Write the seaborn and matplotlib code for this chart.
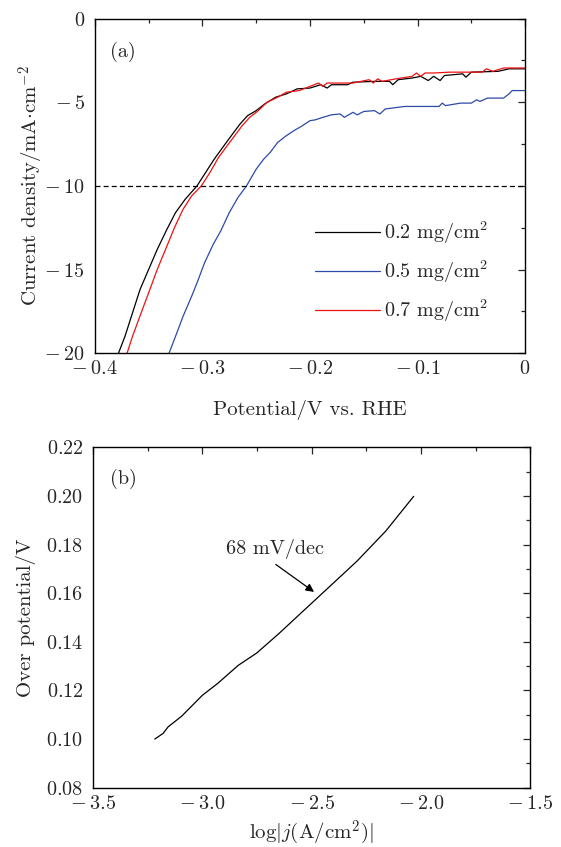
import numpy as np
import pandas as pd
import matplotlib.pyplot as plt
import matplotlib.ticker as mticker
import seaborn as sns

# Style: white background, LaTeX-like Computer Modern fonts
sns.set_style("white")
plt.rcParams['font.family'] = 'serif'
plt.rcParams['font.serif'] = ['cmr10', 'DejaVu Serif']
plt.rcParams['mathtext.fontset'] = 'cm'
plt.rcParams['axes.formatter.use_mathtext'] = True
plt.rcParams['font.size'] = 14.5

# ---- panel (a): polarization curves ----
pot_02 = [-0.378, -0.372, -0.365, -0.358, -0.350, -0.342, -0.333, -0.325, -0.316, -0.305,
          -0.297, -0.289, -0.280, -0.272, -0.265, -0.258, -0.250, -0.242, -0.232, -0.222,
          -0.212, -0.200, -0.190, -0.184, -0.180, -0.165, -0.160, -0.140, -0.126, -0.123,
          -0.118, -0.105, -0.097, -0.090, -0.085, -0.079, -0.075, -0.058, -0.055, -0.050,
          -0.025, -0.015, 0.0]
cur_02 = [-20.0, -19.0, -17.6, -16.2, -15.0, -13.8, -12.6, -11.6, -10.8, -10.0,
          -9.2, -8.4, -7.6, -6.9, -6.3, -5.8, -5.5, -5.1, -4.7, -4.5,
          -4.2, -4.15, -3.95, -4.15, -3.95, -3.95, -3.8, -3.75, -3.75, -3.95,
          -3.65, -3.55, -3.45, -3.7, -3.45, -3.7, -3.4, -3.3, -3.5, -3.2,
          -3.15, -3.0, -3.0]

pot_05 = [-0.331, -0.325, -0.318, -0.310, -0.305, -0.298, -0.290, -0.283, -0.275, -0.267,
          -0.259, -0.250, -0.243, -0.237, -0.230, -0.222, -0.215, -0.207, -0.200, -0.195,
          -0.188, -0.180, -0.172, -0.168, -0.160, -0.156, -0.150, -0.140, -0.135, -0.130,
          -0.112, -0.080, -0.077, -0.074, -0.060, -0.050, -0.045, -0.042, -0.035, -0.020,
          -0.015, -0.012, 0.0]
cur_05 = [-20.0, -19.0, -17.8, -16.6, -15.8, -14.6, -13.5, -12.7, -11.6, -10.7,
          -10.0, -9.0, -8.4, -8.0, -7.4, -7.0, -6.7, -6.4, -6.1, -6.05,
          -5.9, -5.75, -5.7, -5.9, -5.6, -5.75, -5.55, -5.5, -5.7, -5.4,
          -5.25, -5.25, -5.05, -5.2, -5.05, -5.05, -4.85, -4.95, -4.75, -4.75,
          -4.5, -4.3, -4.3]

pot_07 = [-0.370, -0.365, -0.357, -0.350, -0.342, -0.333, -0.326, -0.318, -0.310, -0.301,
          -0.293, -0.285, -0.277, -0.270, -0.263, -0.256, -0.248, -0.240, -0.230, -0.222,
          -0.210, -0.200, -0.192, -0.188, -0.184, -0.180, -0.160, -0.145, -0.141, -0.137,
          -0.133, -0.120, -0.105, -0.101, -0.097, -0.093, -0.085, -0.070, -0.040, -0.036,
          -0.030, -0.020, -0.010, 0.0]
cur_07 = [-20.0, -19.0, -17.6, -16.4, -15.0, -13.6, -12.5, -11.4, -10.6, -10.0,
          -9.2, -8.3, -7.6, -7.0, -6.4, -5.9, -5.5, -5.0, -4.7, -4.4,
          -4.3, -4.05, -3.85, -4.05, -3.85, -3.85, -3.85, -3.65, -3.85, -3.6,
          -3.75, -3.6, -3.45, -3.25, -3.45, -3.25, -3.25, -3.2, -3.2, -3.0,
          -3.15, -2.95, -2.95, -2.95]

series_labels = [r'0.2 mg/cm$^2$', r'0.5 mg/cm$^2$', r'0.7 mg/cm$^2$']
series_colors = ['#000000', '#2c4aa8', '#ee1111']

# ---- panel (b): Tafel plot ----
log_j = [-3.218, -3.180, -3.157, -3.095, -3.000, -2.931, -2.836, -2.751, -2.652, -2.538,
         -2.407, -2.292, -2.161, -2.033]
overpot = [0.100, 0.1023, 0.105, 0.1094, 0.118, 0.1228, 0.1303, 0.1354, 0.1432, 0.1527,
           0.1636, 0.1732, 0.1855, 0.1998]


def tex_num(v, nd):
    # TeX-like labels: wide minus with a little space, plain 0
    if v == 0 and nd <= 1:
        return '$0$'
    s = f'{abs(v):.{nd}f}'
    return rf'$-\:{s}$' if v < 0 else f'${s}$'


fig = plt.figure(figsize=(5.61, 8.47), dpi=100)
ax1 = fig.add_axes([0.169, 0.583, 0.767, 0.395])
ax2 = fig.add_axes([0.166, 0.070, 0.779, 0.402])

# Panel (a)
for xs, ys, lab, col in zip([pot_02, pot_05, pot_07], [cur_02, cur_05, cur_07],
                            series_labels, series_colors):
    df = pd.DataFrame({'x': xs, 'y': ys})
    sns.lineplot(data=df, x='x', y='y', ax=ax1, color=col, lw=0.9, label=lab,
                 sort=False, estimator=None)
ax1.axhline(-10, color='black', ls=(0, (4, 2.5)), lw=0.9)

ax1.set_xlim(-0.4, 0)
ax1.set_ylim(-20, 0)
ax1.xaxis.set_major_locator(mticker.MultipleLocator(0.1))
ax1.xaxis.set_minor_locator(mticker.MultipleLocator(0.05))
ax1.yaxis.set_major_locator(mticker.MultipleLocator(5))
ax1.yaxis.set_minor_locator(mticker.MultipleLocator(2.5))
ax1.xaxis.set_major_formatter(mticker.FuncFormatter(lambda v, p: tex_num(v, 1)))
ax1.yaxis.set_major_formatter(mticker.FuncFormatter(lambda v, p: tex_num(v, 0)))
ax1.set_xlabel('Potential/V vs. RHE', fontsize=15, labelpad=16)
ax1.set_ylabel(r'Current density/mA$\cdot$cm$^{-2}$', fontsize=15, labelpad=-1)
ax1.text(0.065, 0.9, '(a)', transform=ax1.transAxes, ha='center', va='center')
ax1.legend(loc='center left', bbox_to_anchor=(0.512, 0.243), frameon=False,
           borderpad=0, handlelength=3.2, labelspacing=0.62, handletextpad=0.2,
           borderaxespad=0)

# Panel (b)
df_b = pd.DataFrame({'x': log_j, 'y': overpot})
sns.lineplot(data=df_b, x='x', y='y', ax=ax2, color='black', lw=0.9,
             sort=False, estimator=None)
ax2.set_xlim(-3.5, -1.5)
ax2.set_ylim(0.08, 0.22)
ax2.xaxis.set_major_locator(mticker.MultipleLocator(0.5))
ax2.xaxis.set_minor_locator(mticker.MultipleLocator(0.25))
ax2.yaxis.set_major_locator(mticker.MultipleLocator(0.02))
ax2.yaxis.set_minor_locator(mticker.MultipleLocator(0.01))
ax2.xaxis.set_major_formatter(mticker.FuncFormatter(lambda v, p: tex_num(v, 1)))
ax2.yaxis.set_major_formatter(mticker.FuncFormatter(lambda v, p: tex_num(v, 2)))
ax2.set_xlabel(r'$\log|j(\mathrm{A/cm}^2)|$', fontsize=15, labelpad=4)
ax2.set_ylabel('Over potential/V', fontsize=15, labelpad=7)
ax2.text(0.069, 0.906, '(b)', transform=ax2.transAxes, ha='center', va='center')
ax2.text(-2.67, 0.178, '68 mV/dec', ha='center', va='center')
ax2.annotate('', xy=(-2.489, 0.1605), xytext=(-2.664, 0.1718),
             arrowprops=dict(arrowstyle='-|>', color='black', lw=0.9,
                             shrinkA=0, shrinkB=0, mutation_scale=12))

for ax in (ax1, ax2):
    ax.tick_params(which='both', direction='in', top=True, right=True,
                   labelsize=14.5, width=0.9)
    ax.tick_params(which='major', length=5)
    ax.tick_params(which='minor', length=3)
    ax.tick_params(axis='x', which='major', pad=5)
    ax.tick_params(axis='y', which='major', pad=7)
    for s in ax.spines.values():
        s.set_linewidth(1.0)
        s.set_color('black')

plt.savefig('out.png', dpi=100)
